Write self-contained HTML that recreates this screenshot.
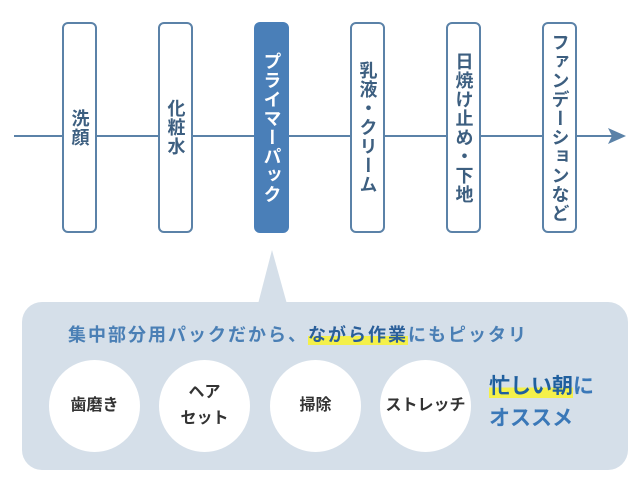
<!DOCTYPE html>
<html><head><meta charset="utf-8"><style>
body{margin:0;width:640px;height:493px;background:#fff;position:relative;overflow:hidden;font-family:"Liberation Sans","Noto Sans CJK JP",sans-serif}
.b{position:absolute;top:22px;width:35px;height:211px;border:2px solid #5b82a8;border-radius:6px;background:#fff;box-sizing:border-box;}
.b span{position:absolute;left:0;right:0;writing-mode:vertical-rl;margin:auto;font-size:18px;font-weight:bold;color:#3d5f80;display:flex;align-items:center;justify-content:center;top:0;bottom:0;letter-spacing:1px}
.c{position:absolute;top:360px;width:91px;height:92px;border-radius:50%;background:#fff;display:flex;align-items:center;justify-content:center;text-align:center;font-size:16px;font-weight:bold;color:#333;line-height:26px}
.hl{background:linear-gradient(transparent 55%,#f4f04a 55%)}
</style></head><body>
<div style="position:absolute;left:14px;top:135px;width:606px;height:2px;background:#5b82a8"></div>
<svg style="position:absolute;left:608px;top:128px" width="20" height="18"><polygon points="0,0 18,8 0,16 4,8" fill="#5b82a8"/></svg>
<div class="b" style="left:62px"><span>洗顔</span></div>
<div class="b" style="left:158px"><span>化粧水</span></div>
<div class="b" style="left:254px;background:#4a7fb8;border-color:#4a7fb8"><span style="color:#fff">プライマーパック</span></div>
<div class="b" style="left:350px"><span>乳液・クリーム</span></div>
<div class="b" style="left:446px"><span>日焼け止め・下地</span></div>
<div class="b" style="left:542px"><span>ファンデーションなど</span></div>
<svg style="position:absolute;left:0;top:0" width="640" height="493">
<polygon points="258,304 272,250 287,304" fill="#d5dfe9"/>
<rect x="22" y="302" width="606" height="168" rx="20" fill="#d5dfe9"/>
</svg>
<div style="position:absolute;left:68px;top:321px;font-size:18px;font-weight:bold;color:#4a7fb5;letter-spacing:2px;white-space:nowrap">集中部分用パックだから、<span class="hl" style="color:#2a5f9a">ながら作業</span>にもピッタリ</div>
<div class="c" style="left:49px">歯磨き</div>
<div class="c" style="left:159px">ヘア<br>セット</div>
<div class="c" style="left:270px">掃除</div>
<div class="c" style="left:380px">ストレッチ</div>
<div style="position:absolute;left:489px;top:371px;font-size:21px;font-weight:bold;color:#3a78b8;line-height:32px;white-space:nowrap"><span class="hl" style="color:#1f5f9e">忙しい朝</span>に<br>オススメ</div>
</body></html>
